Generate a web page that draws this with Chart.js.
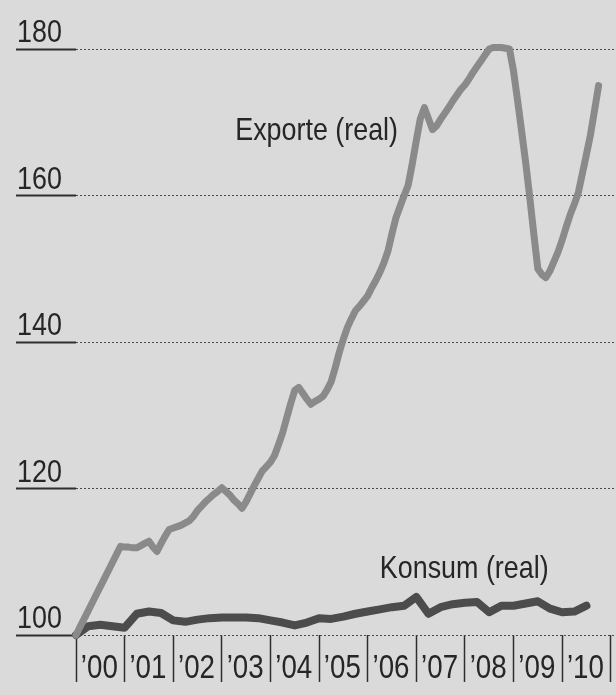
<!DOCTYPE html>
<html lang="de">
<head>
<meta charset="utf-8">
<title>Exporte und Konsum (real)</title>
<script src="https://cdn.jsdelivr.net/npm/chart.js@4.4.1/dist/chart.umd.min.js"></script>
<style>
  html, body { margin: 0; padding: 0; background: #dadada; }
  #chart { display: block; }
</style>
</head>
<body>
<canvas id="chart" width="616" height="695"></canvas>
<script>
// Jahre auf der x-Achse ('00 .. '10)
const years = ["00", "01", "02", "03", "04", "05", "06", "07", "08", "09", "10"];

// Exporte (real), Monatswerte ab Jan 2000, Index 2000 = 100
const exportsMonthly = [
  100.0, 101.1, 102.2, 103.3, 104.4, 105.5, 106.6, 107.7, 108.8, 109.9, 111.0, 112.1,
  112.0, 112.0, 111.9, 111.9, 112.2, 112.5, 112.8, 112.0, 111.4, 112.5, 113.5, 114.4,
  114.6, 114.8, 115.0, 115.3, 115.6, 116.2, 117.0, 117.6, 118.2, 118.7, 119.2, 119.6,
  120.1, 119.6, 119.1, 118.4, 117.9, 117.3, 118.2, 119.3, 120.4, 121.4, 122.4, 123.0,
  123.6, 124.5, 126.0, 127.6, 129.6, 131.6, 133.4, 133.8, 133.0, 132.2, 131.5, 131.9,
  132.2, 132.6, 133.5, 134.6, 136.5, 138.6, 140.4, 142.0, 143.2, 144.3, 144.9, 145.6,
  146.3, 147.4, 148.4, 149.5, 150.8, 152.4, 154.8, 157.0, 158.5, 160.0, 161.4, 164.3,
  167.5, 170.5, 172.0, 170.5, 169.0, 169.5, 170.4, 171.2, 172.0, 172.9, 173.7, 174.5,
  175.1, 175.9, 176.8, 177.6, 178.4, 179.2, 180.0, 180.2, 180.2, 180.2, 180.1, 180.0,
  177.0, 173.0, 168.8, 164.5, 159.8, 154.8, 150.0, 149.2, 148.8, 149.7, 151.0, 152.3,
  153.9, 155.7, 157.4, 158.8, 160.4, 163.0, 165.6, 168.3, 171.6, 175.0
];

// Konsum (real), Quartalswerte (Quartalsende), Index 2000 = 100
const konsumQuarterly = [
  100.0, 101.2, 101.4, 101.2, 101.0, 102.9, 103.2, 103.0, 102.0, 101.8, 102.1,
  102.3, 102.4, 102.4, 102.4, 102.3, 102.0, 101.7, 101.3, 101.7, 102.3, 102.2,
  102.5, 102.9, 103.2, 103.5, 103.8, 104.0, 105.2, 102.9, 103.8, 104.2, 104.4,
  104.5, 103.1, 104.0, 104.0, 104.3, 104.6, 103.6, 103.1, 103.2, 104.0
];

const yTicks = [100, 120, 140, 160, 180];

// Beschriftungen der Linien: [Monat, Indexwert] der linken Grundlinie
const exportLabel = { text: "Exporte (real)", at: [39.3, 167.6] };
const konsumLabel = { text: "Konsum (real)", at: [75, 107.8] };

const FONT = '"Liberation Sans", Arial, Helvetica, sans-serif';
const SQUEEZE = 0.84; // schmale Grotesk wie im Original
const INK = "#262626";

// Text horizontal gestaucht zeichnen
function narrowText(ctx, text, x, y, align) {
  ctx.save();
  ctx.translate(x, y);
  ctx.scale(SQUEEZE, 1);
  ctx.textAlign = align;
  ctx.fillText(text, 0, 0);
  ctx.restore();
}

// Achsenzahlen über der Gitterlinie, Jahreszahlen, Linienbeschriftungen
const textPlugin = {
  id: "textLabels",
  afterDraw(chart) {
    const { ctx, chartArea, scales: { x, y } } = chart;
    ctx.save();
    ctx.fillStyle = INK;
    ctx.textBaseline = "alphabetic";
    ctx.font = "32px " + FONT;
    yTicks.forEach((v) => narrowText(ctx, String(v), 17, y.getPixelForValue(v) - 7, "left"));
    [exportLabel, konsumLabel].forEach((l) => {
      narrowText(ctx, l.text, x.getPixelForValue(l.at[0]), y.getPixelForValue(l.at[1]), "left");
    });
    ctx.font = "33px " + FONT;
    years.forEach((yr, i) => {
      narrowText(ctx, "\u2019" + yr, x.getPixelForValue(i * 12 + 6) - 1, chartArea.bottom + 43, "center");
    });
    ctx.restore();
  },
};

new Chart(document.getElementById("chart"), {
  type: "line",
  data: {
    datasets: [
      {
        label: "Exporte (real)",
        data: exportsMonthly.map((v, m) => ({ x: m, y: v })),
        borderColor: "#8a8a8a",
        borderWidth: 7,
        borderJoinStyle: "round",
        borderCapStyle: "round",
        pointRadius: 0,
        tension: 0,
        clip: false,
      },
      {
        label: "Konsum (real)",
        data: konsumQuarterly.map((v, q) => ({ x: q * 3, y: v })),
        borderColor: "#4c4c4c",
        borderWidth: 8,
        borderJoinStyle: "round",
        borderCapStyle: "round",
        pointRadius: 0,
        tension: 0,
        clip: false,
      },
    ],
  },
  options: {
    responsive: false,
    animation: false,
    events: [],
    layout: { padding: { left: 16, top: 49, right: 0, bottom: 13 } },
    plugins: { legend: { display: false }, tooltip: { enabled: false } },
    scales: {
      x: {
        type: "linear",
        min: 0,
        max: 133.3,
        border: { display: false },
        grid: {
          drawOnChartArea: false,
          tickLength: 47,
          tickWidth: 1.5,
          tickColor: (c) => (c.tick && c.tick.value % 12 === 0 ? "#2e2e2e" : "rgba(0,0,0,0)"),
        },
        ticks: { display: false, stepSize: 12, includeBounds: false, autoSkip: false },
      },
      y: {
        min: 100,
        max: 180,
        border: { display: false, dash: [2, 2] },
        grid: {
          color: "#4a4a4a",
          lineWidth: 1,
          tickLength: 60,
          tickWidth: 2,
          tickColor: "#2e2e2e",
          tickBorderDash: [],
        },
        ticks: { display: false, stepSize: 20 },
      },
    },
  },
  plugins: [textPlugin],
});
</script>
</body>
</html>
